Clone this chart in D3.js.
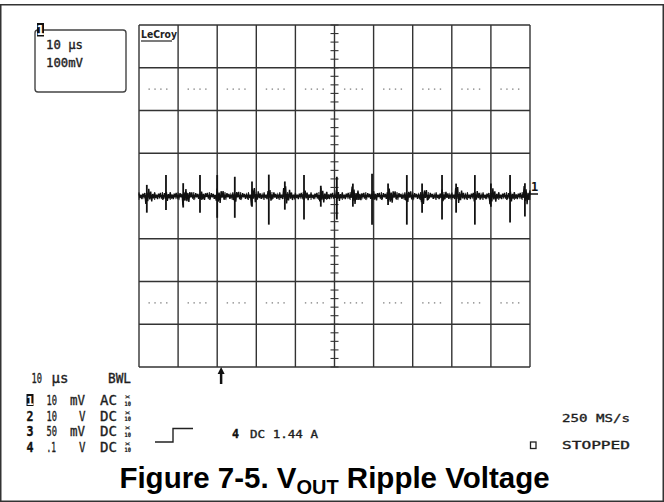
<!DOCTYPE html>
<html>
<head>
<meta charset="utf-8">
<script src="https://cdn.jsdelivr.net/npm/d3@7"></script>
<style>
  html, body { margin: 0; padding: 0; background: #fff; }
  svg { display: block; }
</style>
</head>
<body>
<svg id="chart" width="664" height="502"></svg>
<script>
// ---------------- DATA ----------------
// time axis (µs) and channel 1 voltage (mV), 10 µs/div, 10 mV/div
const timeTicks = [0, 10, 20, 30, 40, 50, 60, 70, 80, 90, 100];
const voltTicks = [-40, -30, -20, -10, 0, 10, 20, 30, 40];
const dottedLevels = [25, -25];

// switching spikes
const spikeTime = [2.0, 6.9, 11.3, 15.6, 20.0, 24.5, 28.9, 33.2, 37.3, 42.2, 46.5, 50.6,
                   54.7, 59.6, 63.7, 68.5, 72.4, 77.5, 81.1, 85.9, 90.0, 94.9, 98.7];
const spikeHigh = [2.6, 4.9, 3.0, 4.9, 4.9, 4.5, 3.4, 5.0, 3.4, 4.9, 2.4, 4.5,
                   2.9, 5.2, 2.9, 4.9, 2.9, 4.9, 2.9, 4.9, 2.9, 4.9, 3.0];
const spikeLow  = [-3.9, -3.3, -2.7, -3.9, -5.1, -5.1, -2.5, -6.7, -3.2, -5.5, -2.5, -5.5,
                   -2.5, -6.7, -2.1, -6.7, -3.9, -5.5, -3.9, -6.7, -2.5, -6.2, -4.8];
// ringing burst size after each spike (mV)
const burstAmp  = [2.0, 1.3, 2.2, 1.3, 1.9, 1.3, 2.1, 1.4, 2.2, 1.4, 1.9, 1.4,
                   2.2, 1.4, 2.1, 1.4, 1.9, 1.4, 2.2, 1.4, 2.1, 1.4, 2.3];
// baseline ripple shape (mV), repeated along the trace
const noiseShape = [0.55, -0.45, 0.3, -0.65, 0.5, -0.2, 0.65, -0.55, 0.2, -0.4, 0.6, -0.3,
                    0.45, -0.6, 0.25, -0.35];

// text
const topBoxLines = ["10 µs", "100mV"];
const chIds = ["1", "2", "3", "4"];
const chValue = ["10", "10", "50", ".1"];
const chUnit = ["mV", "V", "mV", "V"];
const chCoupling = ["AC", "DC", "DC", "DC"];
const timebaseLabel = ["10", "µs"];
const bwlLabel = "BWL";
const ch4Readout = "DC 1.44 A";
const sampleRate = "250 MS/s";
const statusText = "STOPPED";
const captionParts = ["Figure 7-5. V", "OUT", " Ripple Voltage"];

// ---------------- DRAW ----------------
const svg = d3.select("#chart");
const mono = "'DejaVu Sans Mono', monospace";
const ink = "#1e1e1e";

const x = d3.scaleLinear().domain([0, 100]).range([139, 530]);
const y = d3.scaleLinear().domain([-40, 40]).range([367, 25]);

// page frame
svg.append("rect").attr("x", 0.75).attr("y", 4.75).attr("width", 662.5).attr("height", 496.5)
  .attr("fill", "none").attr("stroke", "#333").attr("stroke-width", 1.5);

// grid
const g = svg.append("g");
g.selectAll("line.v").data(timeTicks).join("line")
  .attr("x1", d => x(d)).attr("x2", d => x(d)).attr("y1", y(40)).attr("y2", y(-40))
  .attr("stroke", "#333").attr("stroke-width", 1.4);
g.selectAll("line.h").data(voltTicks).join("line")
  .attr("y1", d => y(d)).attr("y2", d => y(d)).attr("x1", x(0)).attr("x2", x(100))
  .attr("stroke", "#333").attr("stroke-width", 1.4);

// dotted reference rows
const dotOffsets = [2.6, 4.1, 5.6, 7.1];
dottedLevels.forEach(lv => {
  timeTicks.slice(0, 10).forEach(t => {
    dotOffsets.forEach(o => {
      g.append("rect").attr("x", x(t + o) - 0.7).attr("y", y(lv) - 0.7)
        .attr("width", 1.4).attr("height", 1.4).attr("fill", "#8a8a8a");
    });
  });
});

// centre axes with minor ticks
const vMinor = d3.range(-40, 40.01, 2);
g.selectAll("line.vt").data(vMinor).join("line")
  .attr("x1", x(50) - 4).attr("x2", x(50) + 4).attr("y1", d => y(d)).attr("y2", d => y(d))
  .attr("stroke", "#333").attr("stroke-width", 1.1);
const hMinor = d3.range(0, 100.01, 2);
g.selectAll("line.ht").data(hMinor).join("line")
  .attr("y1", y(0) - 4).attr("y2", y(0) + 4).attr("x1", d => x(d)).attr("x2", d => x(d))
  .attr("stroke", "#333").attr("stroke-width", 1.1);

// waveform: baseline ripple with ringing after each spike
const step = 0.25;
const samples = [];
for (let i = 0; i <= 400; i++) {
  const t = i * step;
  let amp = 1.1;
  spikeTime.forEach((st, k) => {
    const dt = t - st;
    if (dt >= -0.3 && dt < 2.8) amp = Math.max(amp, burstAmp[k] * (1 - Math.max(dt, 0) / 3.4) / 0.6);
  });
  samples.push([t, noiseShape[i % noiseShape.length] * amp]);
}
const line = d3.line().x(d => x(d[0])).y(d => y(d[1]));
svg.append("path").datum(samples).attr("d", line)
  .attr("fill", "none").attr("stroke", "#111").attr("stroke-width", 1.4);
svg.append("line").attr("x1", x(0)).attr("x2", x(100)).attr("y1", y(0)).attr("y2", y(0))
  .attr("stroke", "#111").attr("stroke-width", 2);
svg.selectAll("line.spike").data(spikeTime).join("line")
  .attr("x1", d => x(d)).attr("x2", d => x(d))
  .attr("y1", (d, i) => y(spikeHigh[i])).attr("y2", (d, i) => y(spikeLow[i]))
  .attr("stroke", "#111").attr("stroke-width", 1.8);

// channel 1 ground marker at right
svg.append("text").attr("x", 531).attr("y", 191).attr("font-family", mono)
  .attr("font-size", 12).attr("font-weight", "bold").attr("fill", "#111").text("1");
svg.append("line").attr("x1", 530).attr("x2", 538).attr("y1", 194).attr("y2", 194)
  .attr("stroke", "#111").attr("stroke-width", 1.5);

// trigger arrow
svg.append("line").attr("x1", x(21)).attr("x2", x(21)).attr("y1", 372).attr("y2", 384)
  .attr("stroke", "#111").attr("stroke-width", 2.5);
svg.append("path")
  .attr("d", `M${x(21)},367 L${x(21) - 3.5},374 L${x(21) + 3.5},374 Z`).attr("fill", "#111");

// LeCroy logo
svg.append("text").attr("x", 141).attr("y", 38).attr("font-family", "'DejaVu Sans', sans-serif")
  .attr("font-size", 11).attr("font-weight", "bold").attr("fill", "#222")
  .attr("textLength", 36).attr("lengthAdjust", "spacingAndGlyphs").text("LeCroy");
svg.append("line").attr("x1", 141).attr("x2", 172).attr("y1", 41).attr("y2", 41)
  .attr("stroke", "#222").attr("stroke-width", 1.2);

// top-left trace box
svg.append("rect").attr("x", 35).attr("y", 30).attr("width", 91).attr("height", 62).attr("rx", 3)
  .attr("fill", "none").attr("stroke", "#444").attr("stroke-width", 1.4);
function badge(xx, yTop, w, h, label) {
  svg.append("rect").attr("x", xx).attr("y", yTop).attr("width", w).attr("height", h).attr("fill", "#111");
  svg.append("text").attr("x", xx + w / 2).attr("y", yTop + h - 1.5).attr("text-anchor", "middle")
    .attr("font-family", mono).attr("font-size", h).attr("font-weight", "bold")
    .attr("fill", "#fff").text(label);
}
badge(37, 23, 7, 13.5, chIds[0]);
function txt(s, xx, yy, size, len, opts = {}) {
  const t = svg.append("text").attr("x", xx).attr("y", yy).attr("font-family", opts.family || mono)
    .attr("font-size", size).attr("fill", opts.fill || ink)
    .attr("stroke", opts.fill || ink).attr("stroke-width", opts.sw == null ? 0.35 : opts.sw)
    .text(s);
  if (opts.bold) t.attr("font-weight", "bold");
  if (len) t.attr("textLength", len).attr("lengthAdjust", "spacingAndGlyphs");
  return t;
}
txt(topBoxLines[0], 46, 48.5, 11.5, 37);
txt(topBoxLines[1], 46, 66.5, 11.5, 37);

// bottom-left readouts
txt(timebaseLabel[0], 31.5, 383, 13.5, 10.5);
txt(timebaseLabel[1], 51.5, 383, 13.5, 17);
txt(bwlLabel, 108, 383, 13.5, 23);
const rowBase = [405, 420.5, 436, 451.5];
chIds.forEach((id, i) => {
  const b = rowBase[i];
  if (i === 0) badge(26.5, b - 11, 7, 12, id);
  else txt(id, 26.5, b, 14, 7, { bold: true, fill: "#111" });
  txt(chValue[i], 46.5, b, 13.5, chValue[i] === ".1" ? 9.5 : 10.5);
  if (chUnit[i] === "mV") txt(chUnit[i], 70, b, 13.5, 15);
  else txt(chUnit[i], 79, b, 13.5, 6.5);
  txt(chCoupling[i], 100, b, 13.5, 17);
  txt("×", 124.5, b - 6, 6.5, 6, { sw: 0.2 });
  txt("10", 124.5, b + 0.5, 6, 6.5, { bold: true, sw: 0.2 });
});

// trigger step symbol and ch4 readout
svg.append("path").attr("d", "M155,442 H173 V428.5 H193")
  .attr("fill", "none").attr("stroke", "#222").attr("stroke-width", 1.4);
txt(chIds[3], 232, 438, 12.5, 7, { bold: true, fill: "#111" });
txt(ch4Readout, 250, 437.5, 11, 68);

// right readouts
txt(sampleRate, 562, 421.5, 11, 68);
svg.append("rect").attr("x", 530.5).attr("y", 442).attr("width", 5.5).attr("height", 6.5)
  .attr("fill", "none").attr("stroke", "#222").attr("stroke-width", 1.3);
txt(statusText, 562, 448.5, 11, 68);

// caption
const cap = svg.append("text").attr("x", 334.5).attr("y", 488).attr("text-anchor", "middle")
  .attr("font-family", "'Liberation Sans', Arial, sans-serif").attr("font-weight", "bold")
  .attr("font-size", 29.5).attr("fill", "#000");
cap.append("tspan").text(captionParts[0]);
cap.append("tspan").attr("font-size", 20).attr("dy", 6).text(captionParts[1]);
cap.append("tspan").attr("dy", -6).text(captionParts[2]);
</script>
</body>
</html>
